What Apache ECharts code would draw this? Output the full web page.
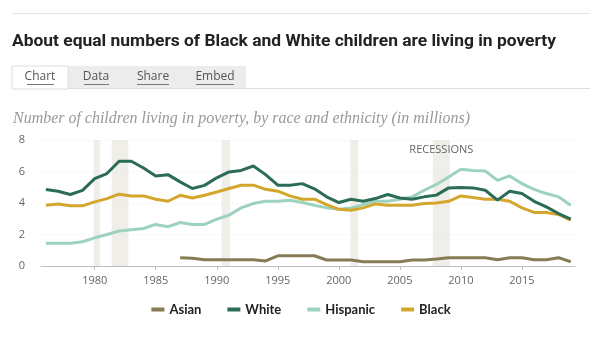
<!DOCTYPE html>
<html>
<head>
<meta charset="utf-8">
<script src="https://cdn.jsdelivr.net/npm/echarts@6/dist/echarts.min.js"></script>
<style>
html, body { margin: 0; padding: 0; background: #fff; }
#main { width: 602px; height: 353px; }
</style>
</head>
<body>
<div id="main"></div>
<script>
// years 1976 - 2019
var years = [1976, 1977, 1978, 1979, 1980, 1981, 1982, 1983, 1984, 1985,
             1986, 1987, 1988, 1989, 1990, 1991, 1992, 1993, 1994, 1995,
             1996, 1997, 1998, 1999, 2000, 2001, 2002, 2003, 2004, 2005,
             2006, 2007, 2008, 2009, 2010, 2011, 2012, 2013, 2014, 2015,
             2016, 2017, 2018, 2019];

var asian = [null, null, null, null, null, null, null, null, null, null,
             null, 0.53, 0.49, 0.4, 0.4, 0.4, 0.4, 0.4, 0.32, 0.65,
             0.65, 0.65, 0.65, 0.38, 0.38, 0.38, 0.27, 0.27, 0.27, 0.27,
             0.38, 0.38, 0.44, 0.53, 0.53, 0.53, 0.53, 0.4, 0.53, 0.53,
             0.4, 0.4, 0.53, 0.27];

var white = [4.85, 4.75, 4.54, 4.8, 5.55, 5.87, 6.65, 6.65, 6.22, 5.72,
             5.8, 5.34, 4.92, 5.12, 5.6, 5.97, 6.07, 6.35, 5.8, 5.13,
             5.13, 5.23, 4.9, 4.39, 4.03, 4.24, 4.11, 4.28, 4.54, 4.32,
             4.24, 4.39, 4.5, 4.96, 4.98, 4.96, 4.81, 4.18, 4.75, 4.6,
             4.11, 3.75, 3.33, 2.97];

var hispanic = [1.44, 1.44, 1.44, 1.54, 1.79, 2.0, 2.22, 2.3, 2.38, 2.64,
                2.49, 2.76, 2.64, 2.64, 2.97, 3.23, 3.69, 3.97, 4.11, 4.11,
                4.18, 4.03, 3.86, 3.69, 3.6, 3.69, 3.9, 4.11, 4.11, 4.24,
                4.39, 4.81, 5.18, 5.65, 6.14, 6.06, 6.03, 5.44, 5.72, 5.23,
                4.87, 4.6, 4.39, 3.86];

var black = [3.86, 3.94, 3.82, 3.82, 4.07, 4.28, 4.56, 4.45, 4.45, 4.24,
             4.11, 4.49, 4.32, 4.49, 4.7, 4.92, 5.13, 5.13, 4.87, 4.75,
             4.45, 4.24, 4.24, 3.9, 3.6, 3.54, 3.69, 3.94, 3.86, 3.86,
             3.86, 3.97, 4.0, 4.11, 4.45, 4.35, 4.24, 4.24, 4.11, 3.69,
             3.4, 3.4, 3.27, 2.91];

// recession periods (start, end)
var recessions = [[1979.92, 1980.45], [1981.4, 1982.75], [1990.4, 1991.1],
                  [2000.95, 2001.6], [2007.7, 2009.1]];

var xTicks = [1980, 1985, 1990, 1995, 2000, 2005, 2010, 2015];

var titleText = 'About equal numbers of Black and White children are living in poverty';
var subText = 'Number of children living in poverty, by race and ethnicity (in millions)';

function pairs(arr) {
	var res = [];
	for (var i = 0; i < years.length; i++) {
		res.push([years[i], arr[i]]);
	}
	return res;
}

// squeeze text to the width it has in the picture
var ctx = document.createElement('canvas').getContext('2d');
function fitScale(font, text, w) {
	ctx.font = font;
	return w / ctx.measureText(text).width;
}
var titleFont = 'bold 17px Roboto';
var subFont = 'italic 15px "Liberation Serif"';
var titleScale = fitScale(titleFont, titleText, 544);
var subScale = fitScale(subFont, subText, 457);

var myChart = echarts.init(document.getElementById('main'));

var bands = recessions.map(function(r, i) {
	var first = { xAxis: r[0] };
	if (i == recessions.length - 1) {
		first.label = {
			show: true, position: 'insideTop', distance: 4,
			formatter: 'RECESSIONS', color: '#666', fontSize: 11,
			fontFamily: 'Open Sans'
		};
	}
	return [first, { xAxis: r[1] }];
});

var tabFont = '12px "Open Sans"';

var option = {
	animation: false,
	graphic: [
		{ type: 'rect', shape: { x: 12, y: 13, width: 578, height: 1 }, style: { fill: '#e4e4e4' } },
		{ type: 'text', x: 12, y: 42, scaleX: titleScale,
		  style: { text: titleText, fill: '#222', font: titleFont, verticalAlign: 'middle' } },
		// tabs
		{ type: 'rect', shape: { x: 68, y: 66, width: 178, height: 22 }, style: { fill: '#ececec' } },
		{ type: 'rect', shape: { x: 12, y: 66, width: 56, height: 23 }, style: { fill: '#fff', stroke: '#ddd', lineWidth: 1 } },
		{ type: 'rect', shape: { x: 68, y: 88, width: 522, height: 1 }, style: { fill: '#ddd' } },
		{ type: 'text', x: 40, y: 77, style: { text: 'Chart', fill: '#555', font: tabFont, align: 'center', verticalAlign: 'middle' } },
		{ type: 'text', x: 96, y: 77, style: { text: 'Data', fill: '#555', font: tabFont, align: 'center', verticalAlign: 'middle' } },
		{ type: 'text', x: 153, y: 77, style: { text: 'Share', fill: '#555', font: tabFont, align: 'center', verticalAlign: 'middle' } },
		{ type: 'text', x: 215, y: 77, style: { text: 'Embed', fill: '#555', font: tabFont, align: 'center', verticalAlign: 'middle' } },
		{ type: 'rect', shape: { x: 27, y: 84, width: 27, height: 1 }, style: { fill: '#777' } },
		{ type: 'rect', shape: { x: 84, y: 84, width: 25, height: 1 }, style: { fill: '#777' } },
		{ type: 'rect', shape: { x: 137, y: 84, width: 32, height: 1 }, style: { fill: '#777' } },
		{ type: 'rect', shape: { x: 196, y: 84, width: 38, height: 1 }, style: { fill: '#777' } },
		// subtitle
		{ type: 'text', x: 13, y: 119, scaleX: subScale, scaleY: 1.05,
		  style: { text: subText, fill: '#999', font: subFont, verticalAlign: 'middle' } }
	],
	legend: {
		left: 'center',
		top: 298,
		icon: 'rect',
		itemWidth: 13,
		itemHeight: 4,
		itemGap: 26,
		textStyle: { fontSize: 13, fontWeight: 'bold', color: '#222', fontFamily: 'Lato' },
		data: ['Asian', 'White', 'Hispanic', 'Black']
	},
	grid: { left: 41, right: 27, top: 140, bottom: 87 },
	xAxis: {
		type: 'value',
		min: 1975.6,
		max: 2019.35,
		splitLine: { show: false },
		axisLine: { lineStyle: { color: '#b8c0c8' } },
		axisTick: { show: true, customValues: xTicks, length: 4, lineStyle: { color: '#b8c0c8' } },
		axisLabel: {
			customValues: xTicks, color: '#666', fontSize: 11, fontFamily: 'Open Sans', margin: 9,
			formatter: function(v) { return String(v); }
		}
	},
	yAxis: {
		type: 'value',
		min: 0,
		max: 8,
		interval: 2,
		axisLine: { show: false },
		axisTick: { show: false },
		axisLabel: { color: '#666', fontSize: 11, fontFamily: 'Open Sans', margin: 16 },
		splitLine: { lineStyle: { color: '#e6e6e6', type: [1, 3] } }
	},
	series: [
		{
			name: 'Asian', type: 'line', data: pairs(asian), showSymbol: false,
			color: '#857c55', lineStyle: { width: 3 }, z: 3,
			markArea: { silent: true, itemStyle: { color: 'rgba(225,222,210,0.5)' }, data: bands }
		},
		{ name: 'Hispanic', type: 'line', data: pairs(hispanic), showSymbol: false, color: '#9dd2c1', lineStyle: { width: 3 }, z: 3 },
		{ name: 'Black', type: 'line', data: pairs(black), showSymbol: false, color: '#d5a62c', lineStyle: { width: 3 }, z: 4 },
		{ name: 'White', type: 'line', data: pairs(white), showSymbol: false, color: '#2b6c56', lineStyle: { width: 3 }, z: 5 }
	]
};

myChart.setOption(option);
</script>
</body>
</html>
